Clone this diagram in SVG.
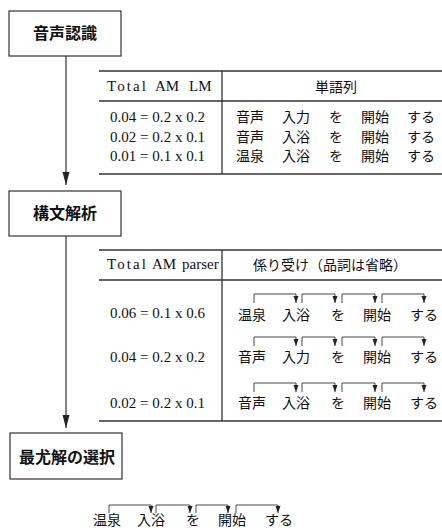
<svg xmlns="http://www.w3.org/2000/svg" width="442" height="530" viewBox="0 0 442 530">
<style>
.box{fill:#fff;stroke:#333;stroke-width:1.2}
.bt{font-family:"Noto Sans CJK JP",sans-serif;font-size:16px;font-weight:bold;fill:#111;text-anchor:middle}
.num{font-family:"Liberation Serif",serif;font-size:15px;fill:#111}
.jp{font-family:"Noto Sans CJK JP",sans-serif;font-size:14px;fill:#111;text-anchor:middle}
.rule{stroke:#333;stroke-width:1.3}
.conn{stroke:#333;stroke-width:1.2;fill:none}
.dep{stroke:#333;stroke-width:0.9;fill:none}
</style>
<defs>
<marker id="ah" markerUnits="userSpaceOnUse" markerWidth="8" markerHeight="14" refX="4" refY="13" orient="0" viewBox="0 0 8 14">
<path d="M0.5,0 L7.5,0 L4,13 Z" fill="#222"/>
</marker>
<marker id="dh" markerUnits="userSpaceOnUse" markerWidth="6" markerHeight="8" refX="3" refY="7" orient="0" viewBox="0 0 6 8">
<path d="M0.5,0 L5.5,0 L3,7 Z" fill="#222"/>
</marker>
</defs>

<g id="connectors">
<line class="conn" x1="66" y1="56" x2="66" y2="185" marker-end="url(#ah)"/>
<line class="conn" x1="66" y1="236" x2="66" y2="428" marker-end="url(#ah)"/>
</g>

<g id="node-asr">
<rect class="box" x="9" y="11" width="112" height="45"/>
<text class="bt" x="65" y="39">音声認識</text>
</g>

<g id="node-parse">
<rect class="box" x="9" y="191" width="112" height="45"/>
<text class="bt" x="65" y="219">構文解析</text>
</g>

<g id="node-select">
<rect class="box" x="10" y="433" width="112" height="46"/>
<text class="bt" x="67" y="463">最尤解の選択</text>
</g>

<g id="table-asr">
<line class="rule" x1="99" y1="71" x2="442" y2="71"/>
<line class="rule" x1="99" y1="101" x2="442" y2="101"/>
<line class="rule" x1="99" y1="174" x2="442" y2="174"/>
<line class="rule" x1="222" y1="71" x2="222" y2="174"/>
<text class="num" y="91"><tspan x="107" textLength="39" lengthAdjust="spacing">Total</tspan><tspan x="155">AM</tspan><tspan x="189">LM</tspan></text>
<text class="jp" x="336" y="92">単語列</text>
<text class="num" x="110" y="122" textLength="95" lengthAdjust="spacing">0.04 = 0.2 x 0.2</text>
<text class="num" x="110" y="142" textLength="95" lengthAdjust="spacing">0.02 = 0.2 x 0.1</text>
<text class="num" x="110" y="161" textLength="95" lengthAdjust="spacing">0.01 = 0.1 x 0.1</text>
<g>
<text class="jp" x="250" y="122">音声</text><text class="jp" x="296" y="122">入力</text><text class="jp" x="336" y="122">を</text><text class="jp" x="375" y="122">開始</text><text class="jp" x="421" y="122">する</text>
</g>
<g>
<text class="jp" x="250" y="142">音声</text><text class="jp" x="296" y="142">入浴</text><text class="jp" x="336" y="142">を</text><text class="jp" x="375" y="142">開始</text><text class="jp" x="421" y="142">する</text>
</g>
<g>
<text class="jp" x="250" y="161">温泉</text><text class="jp" x="296" y="161">入浴</text><text class="jp" x="336" y="161">を</text><text class="jp" x="375" y="161">開始</text><text class="jp" x="421" y="161">する</text>
</g>
</g>

<g id="table-parse">
<line class="rule" x1="99" y1="250" x2="442" y2="250"/>
<line class="rule" x1="99" y1="280" x2="442" y2="280"/>
<line class="rule" x1="99" y1="421" x2="442" y2="421"/>
<line class="rule" x1="222" y1="250" x2="222" y2="421"/>
<text class="num" y="269"><tspan x="107" textLength="39" lengthAdjust="spacing">Total</tspan><tspan x="152">AM</tspan><tspan x="182">parser</tspan></text>
<text class="jp" x="330" y="270">係り受け（品詞は省略）</text>
<text class="num" x="110" y="318" textLength="95" lengthAdjust="spacing">0.06 = 0.1 x 0.6</text>
<text class="num" x="110" y="362" textLength="95" lengthAdjust="spacing">0.04 = 0.2 x 0.2</text>
<text class="num" x="110" y="408" textLength="95" lengthAdjust="spacing">0.02 = 0.2 x 0.1</text>
<g>
<path class="dep" d="M254,303 V294 H296 V303" marker-end="url(#dh)"/>
<path class="dep" d="M302,303 V294 H335 V303" marker-end="url(#dh)"/>
<path class="dep" d="M342,303 V294 H375 V303" marker-end="url(#dh)"/>
<path class="dep" d="M382,303 V294 H424 V303" marker-end="url(#dh)"/>
<text class="jp" x="252" y="320">温泉</text><text class="jp" x="296" y="320">入浴</text><text class="jp" x="338" y="320">を</text><text class="jp" x="377" y="320">開始</text><text class="jp" x="424" y="320">する</text>
</g>
<g>
<path class="dep" d="M254,346 V337 H296 V346" marker-end="url(#dh)"/>
<path class="dep" d="M302,346 V337 H335 V346" marker-end="url(#dh)"/>
<path class="dep" d="M342,346 V337 H375 V346" marker-end="url(#dh)"/>
<path class="dep" d="M382,346 V337 H424 V346" marker-end="url(#dh)"/>
<text class="jp" x="252" y="362">音声</text><text class="jp" x="296" y="362">入力</text><text class="jp" x="338" y="362">を</text><text class="jp" x="377" y="362">開始</text><text class="jp" x="424" y="362">する</text>
</g>
<g>
<path class="dep" d="M254,392 V383 H296 V392" marker-end="url(#dh)"/>
<path class="dep" d="M302,392 V383 H335 V392" marker-end="url(#dh)"/>
<path class="dep" d="M342,392 V383 H375 V392" marker-end="url(#dh)"/>
<path class="dep" d="M382,392 V383 H424 V392" marker-end="url(#dh)"/>
<text class="jp" x="252" y="408">音声</text><text class="jp" x="296" y="408">入浴</text><text class="jp" x="338" y="408">を</text><text class="jp" x="377" y="408">開始</text><text class="jp" x="424" y="408">する</text>
</g>
</g>

<g id="result">
<path class="dep" d="M109,513 V505 H151 V513" marker-end="url(#dh)"/>
<path class="dep" d="M156,513 V505 H190 V513" marker-end="url(#dh)"/>
<path class="dep" d="M196,513 V505 H228 V513" marker-end="url(#dh)"/>
<path class="dep" d="M236,513 V505 H278 V513" marker-end="url(#dh)"/>
<text class="jp" x="107" y="525">温泉</text><text class="jp" x="151" y="525">入浴</text><text class="jp" x="193" y="525">を</text><text class="jp" x="232" y="525">開始</text><text class="jp" x="279" y="525">する</text>
</g>
</svg>
